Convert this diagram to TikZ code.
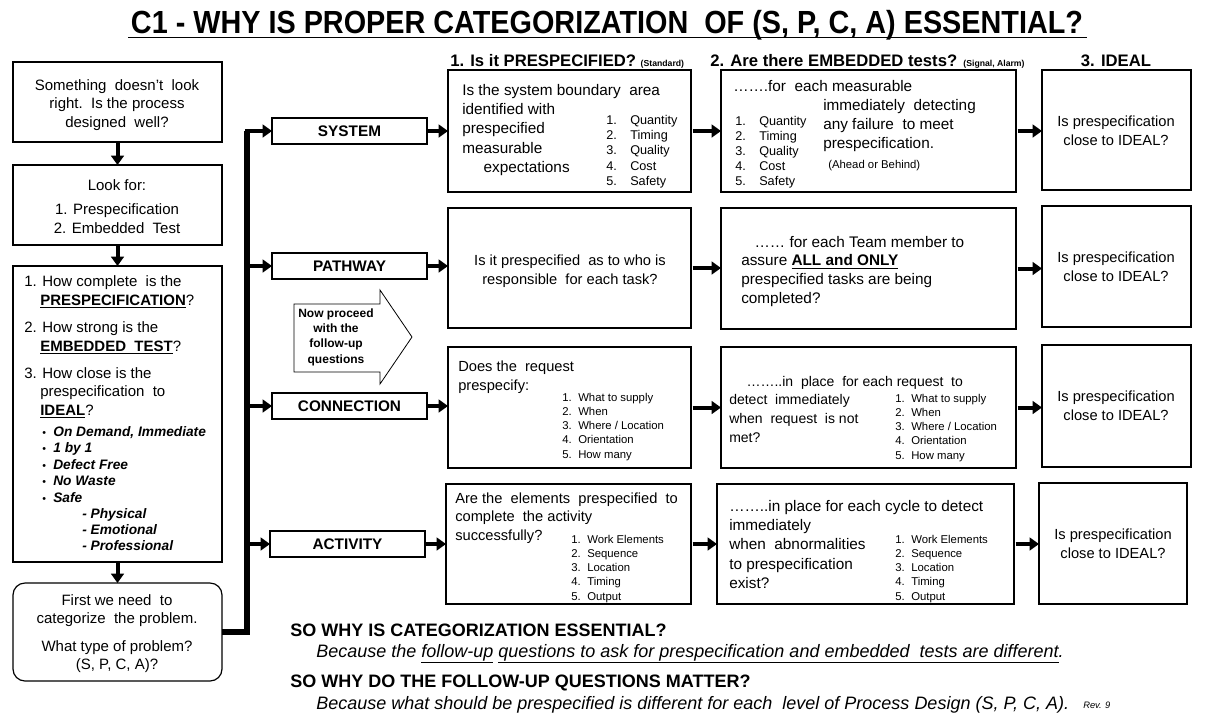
\documentclass[tikz,border=0pt]{standalone}
\usepackage{fontspec}
\setmainfont{Liberation Sans}
\newfontfamily\condf[FakeStretch=0.9]{Liberation Sans}
\usetikzlibrary{arrows.meta}
\newcommand\fs[2]{\fontsize{#1}{#2}\selectfont}
\newcommand\bx[5]{\node[box, anchor=north west, minimum width=#4*0.75pt, minimum height=#5*0.75pt] (#1) at (#2,#3) {};}
\newcommand\lit[2]{\makebox[#1][l]{#2}}
\newcommand\tabl[1]{\begin{tabular}[t]{@{}l@{}}#1\end{tabular}}
\newcommand\tabc[1]{\begin{tabular}[t]{@{}c@{}}#1\end{tabular}}
\begin{document}
\begin{tikzpicture}[x=0.75pt,y=-0.75pt,
  box/.style={draw, line width=0.9pt, inner sep=0, outer sep=0},
  cat/.style={box, font=\bfseries\fs{11.5}{14}},
  arr/.style={line width=3pt, -{Triangle[length=7pt,width=9.5pt]}},
  bus/.style={line width=3.8pt, line join=miter},
  tx/.style={inner sep=0, anchor=base west},
  tc/.style={inner sep=0, anchor=base}]
\useasboundingbox (0,0) rectangle (1207,719);
% title
\node[inner sep=0, anchor=base] (title) at (607,33) {\condf\bfseries\fs{24}{28}C1 - WHY IS PROPER CATEGORIZATION\ \ OF (S, P, C, A) ESSENTIAL?};
\draw[line width=1.3pt] (128,37.5) coordinate (ul1) -- (1087,37.5) coordinate (ul2);
% headers
\node[tx] (h1) at (450,66) {\bfseries\fs{12.5}{14}1. Is it PRESPECIFIED? {\fs{6.5}{8}(Standard)}};
\node[tx] (h2) at (710,66) {\bfseries\fs{12.5}{14}2. Are there EMBEDDED tests? {\fs{6.5}{8}(Signal, Alarm)}};
\node[tc] (h3) at (1116,66) {\bfseries\fs{12.5}{14}3. IDEAL};
% left column
\bx{A}{13}{62}{209}{80}
\bx{B}{13}{165}{209}{80}
\bx{C}{13}{266}{209}{296}
\node[box, rounded corners=9pt, anchor=north west, minimum width=209*0.75pt, minimum height=98*0.75pt] (D) at (13,583) {};
\node[tc] (tA) at (117,90) {\fs{11.25}{14}\tabc{Something\ \ doesn't\ \ look\\right.\ \ Is the process\\designed\ \ well?}};
\node[tc] (tB) at (117,190) {\fs{11.25}{14.25}\tabc{Look for:\\[3.8pt]1. Prespecification\\2. Embedded\ \ Test}};
\node[tx] (tC1) at (24,286) {\fs{11.25}{14.25}\tabl{1. How complete\ \ is the\\\hspace{12pt}\underline{\textbf{PRESPECIFICATION}}?}};
\node[tx] (tC2) at (24,332) {\fs{11.25}{14.25}\tabl{2. How\ strong\ is the\\\hspace{12pt}\underline{\textbf{EMBEDDED\ \ TEST}}?}};
\node[tx] (tC3) at (24,378) {\fs{11.25}{14}\tabl{3. How\ close is the\\\hspace{12pt}prespecification\ \ to\\\hspace{12pt}\underline{\textbf{IDEAL}}?}};
\node[tx] (tC4) at (42,436) {\bfseries\itshape\fs{10.3}{12.4}\tabl{\lit{8.3pt}{\normalfont\fs{8}{9}•}On Demand, Immediate\\\lit{8.3pt}{\normalfont\fs{8}{9}•}1 by 1\\\lit{8.3pt}{\normalfont\fs{8}{9}•}Defect Free\\\lit{8.3pt}{\normalfont\fs{8}{9}•}No Waste\\\lit{8.3pt}{\normalfont\fs{8}{9}•}Safe}};
\node[tx] (tC5) at (82,518) {\bfseries\itshape\fs{10.3}{12.3}\tabl{- Physical\\- Emotional\\- Professional}};
\node[tc] (tD) at (117,605) {\fs{11.25}{13.5}\tabc{First we need\ \ to\\categorize\ \ the problem.\\[7.5pt]What type of problem?\\(S, P, C, A)?}};
\draw[arr] (A.south) -- (B.north);
\draw[arr] (B.south) -- (C.north);
\draw[arr] (C.south) -- (D.north);
% categories
\node[cat, anchor=north west, minimum width=155*0.75pt, minimum height=26*0.75pt] (sys) at (272,118) {SYSTEM};
\node[cat, anchor=north west, minimum width=155*0.75pt, minimum height=26*0.75pt] (pat) at (272,253) {PATHWAY};
\node[cat, anchor=north west, minimum width=155*0.75pt, minimum height=26*0.75pt] (con) at (272,393) {CONNECTION};
\node[cat, anchor=north west, minimum width=155*0.75pt, minimum height=26*0.75pt] (act) at (270,531) {ACTIVITY};
\coordinate (bbot) at (247,632);
\coordinate (btop) at (247,131);
\coordinate (bp) at (247,266);
\coordinate (bc) at (247,406);
\coordinate (ba) at (247,544);
\draw[bus] (D.east) -- (bbot) -- (btop);
\coordinate (btl) at (245,131);
\draw[arr] (btl) -- (sys.west);
\draw[arr] (bp) -- (bp -| pat.west);
\draw[arr] (bc) -- (bc -| con.west);
\draw[arr] (ba) -- (ba -| act.west);
% block arrow
\draw[line width=0.6pt, fill=white] (294,304) coordinate (ba1) -- (380,304) -- (380,290) -- (412,337) -- (380,384) -- (380,372) -- (294,372) -- cycle;
\node[tc] (np) at (336,317) {\bfseries\fs{9}{11.6}\tabc{Now proceed\\with the\\follow-up\\questions}};
% column 1
\bx{p1}{448}{70}{243}{122}
\bx{p2}{448}{208}{243}{120}
\bx{p3}{448}{347}{243}{121}
\bx{p4}{446}{484}{245}{120}
% column 2
\bx{e1}{721}{70}{295}{122}
\bx{e2}{721}{208}{295}{121}
\bx{e3}{721}{347}{295}{121}
\bx{e4}{717}{484}{297}{120}
% column 3
\bx{i1}{1042}{70}{149}{120}
\bx{i2}{1042}{206}{149}{121}
\bx{i3}{1042}{345}{149}{122}
\bx{i4}{1039}{483}{148}{121}
% arrows
\draw[arr] (sys.east) -- (sys.east -| p1.west);
\draw[arr] (pat.east) -- (pat.east -| p2.west);
\draw[arr] (con.east) -- (con.east -| p3.west);
\draw[arr] (act.east) -- (act.east -| p4.west);
\draw[arr] ([xshift=1.2pt]p1.east) -- (p1.east -| e1.west);
\draw[arr] ([xshift=1.2pt]p2.east) -- (p2.east -| e2.west);
\draw[arr] ([xshift=1.2pt]p3.east) -- (p3.east -| e3.west);
\draw[arr] ([xshift=1.2pt]p4.east) -- (p4.east -| e4.west);
\draw[arr] ([xshift=1.2pt]e1.east) -- (e1.east -| i1.west);
\draw[arr] ([xshift=1.2pt]e2.east) -- (e2.east -| i2.west);
\draw[arr] ([xshift=1.2pt]e3.east) -- (e3.east -| i3.west);
\draw[arr] ([xshift=1.2pt]e4.east) -- (e4.east -| i4.west);
% row 1 texts
\node[tx] (t11) at (462,95) {\fs{11.5}{14.6}\tabl{Is the\ system\ boundary\ \ area\\identified with\\prespecified\\measurable\\\hspace{16pt}expectations}};
\node[tx] (t12) at (606,124) {\fs{9.5}{11.6}\tabl{\lit{18pt}{1.}Quantity\\\lit{18pt}{2.}Timing\\\lit{18pt}{3.}Quality\\\lit{18pt}{4.}Cost\\\lit{18pt}{5.}Safety}};
\node[tx] (t13) at (733,91) {\fs{11.5}{14.6}…….for\ \ each measurable};
\node[tx] (t14) at (735,125) {\fs{9.5}{11.4}\tabl{\lit{18pt}{1.}Quantity\\\lit{18pt}{2.}Timing\\\lit{18pt}{3.}Quality\\\lit{18pt}{4.}Cost\\\lit{18pt}{5.}Safety}};
\node[tx] (t15) at (823,110) {\fs{11.5}{14.6}\tabl{immediately\ \ detecting\\any failure\ \ to meet\\prespecification.}};
\node[tx] (t16) at (828,168) {\fs{8.5}{10}(Ahead or Behind)};
\node[tc] (t17) at (1116,126) {\fs{11}{14.25}\tabc{Is prespecification\\close to IDEAL?}};
% row 2 texts
\node[tc] (t21) at (570,265) {\fs{11}{14.25}\tabc{Is it prespecified\ \ as to who is\\responsible\ \ for each task?}};
\node[tx] (t22) at (741,247) {\fs{11.5}{14.1}\tabl{\hspace{10pt}…… for each Team\ member to\\assure\ \underline{\textbf{ALL and ONLY}}\\prespecified tasks are being\\completed?}};
\node[tc] (t23) at (1116,262) {\fs{11}{14.25}\tabc{Is prespecification\\close to IDEAL?}};
% row 3 texts
\node[tx] (t31) at (458,371) {\fs{11}{14.25}\tabl{Does the\ \ request\\prespecify:}};
\node[tx] (t32) at (562,401) {\fs{8.5}{10.7}\tabl{\lit{12pt}{1.}What to supply\\\lit{12pt}{2.}When\\\lit{12pt}{3.}Where / Location\\\lit{12pt}{4.}Orientation\\\lit{12pt}{5.}How many}};
\node[tx] (t33) at (729,386) {\fs{10.5}{14.1}\tabl{\hspace{13pt}……..in\ \ place\ \ for\ each\ request\ \ to\\detect\ \ immediately\\when\ \ request\ \ is not\\met?}};
\node[tx] (t34) at (895,402) {\fs{8.5}{10.7}\tabl{\lit{12pt}{1.}What to supply\\\lit{12pt}{2.}When\\\lit{12pt}{3.}Where / Location\\\lit{12pt}{4.}Orientation\\\lit{12pt}{5.}How many}};
\node[tc] (t35) at (1116,401) {\fs{11}{14.25}\tabc{Is prespecification\\close to IDEAL?}};
% row 4 texts
\node[tx] (t41) at (455,503) {\fs{11}{13.9}\tabl{Are the\ \ elements\ \ prespecified\ \ to\\complete\ \ the\ activity\\successfully?}};
\node[tx] (t42) at (571,543) {\fs{8.5}{10.7}\tabl{\lit{12pt}{1.}Work Elements\\\lit{12pt}{2.}Sequence\\\lit{12pt}{3.}Location\\\lit{12pt}{4.}Timing\\\lit{12pt}{5.}Output}};
\node[tx] (t43) at (729,511) {\fs{11.5}{14.6}\tabl{……..in place for each cycle to detect\\immediately\\when\ \ abnormalities\\to prespecification\\exist?}};
\node[tx] (t44) at (895,543) {\fs{8.5}{10.7}\tabl{\lit{12pt}{1.}Work Elements\\\lit{12pt}{2.}Sequence\\\lit{12pt}{3.}Location\\\lit{12pt}{4.}Timing\\\lit{12pt}{5.}Output}};
\node[tc] (t45) at (1113,539) {\fs{11}{14.25}\tabc{Is prespecification\\close to IDEAL?}};
% bottom
\node[tx] (b1) at (290,636) {\bfseries\fs{13.5}{15}SO WHY IS CATEGORIZATION\ ESSENTIAL?};
\node[tx] (b2) at (316,657) {\itshape\fs{13.5}{15}Because the \underline{follow-up} \underline{questions to ask for prespecification and embedded\ \ tests are different}.};
\node[tx] (b3) at (290,687) {\bfseries\fs{13.5}{15}SO WHY DO THE FOLLOW-UP QUESTIONS MATTER?};
\node[tx] (b4) at (316,709) {\itshape\fs{13.5}{15}Because what should be prespecified is different for each\ \ level of Process Design (S, P, C, A).};
\node[tx] (rev) at (1083,708) {\itshape\fs{7}{8}Rev. 9};
\end{tikzpicture}
\end{document}
